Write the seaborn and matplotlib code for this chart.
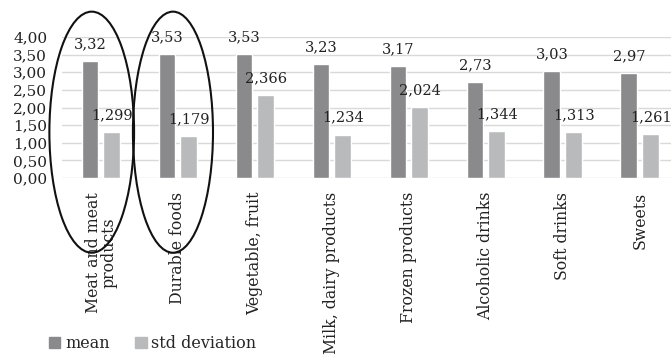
import pandas as pd
import matplotlib
matplotlib.use('Agg')
import matplotlib.pyplot as plt
import seaborn as sns
from matplotlib.patches import Ellipse, Patch

categories = ['Meat and meat\nproducts', 'Durable foods', 'Vegetable, fruit',
              'Milk, dairy products', 'Frozen products', 'Alcoholic drinks',
              'Soft drinks', 'Sweets']
mean_vals = [3.32, 3.53, 3.53, 3.23, 3.17, 2.73, 3.03, 2.97]
std_vals = [1.299, 1.179, 2.366, 1.234, 2.024, 1.344, 1.313, 1.261]
series = ['mean', 'std deviation']
yticks = [0.0, 0.5, 1.0, 1.5, 2.0, 2.5, 3.0, 3.5, 4.0]

MEAN_C = '#8a8a8d'
STD_C = '#b9babc'
FONT = 'DejaVu Serif'

df = pd.DataFrame({
    'category': categories * 2,
    'value': mean_vals + std_vals,
    'series': [series[0]] * len(categories) + [series[1]] * len(categories),
})

sns.set_style('white')
plt.rcParams['font.family'] = [FONT]

fig = plt.figure(figsize=(6.71, 3.56), dpi=100)
ax = fig.add_axes([0.0931, 0.5, 0.918, 0.396])

sns.barplot(data=df, x='category', y='value', hue='series',
            palette=[MEAN_C, STD_C], width=0.571, gap=0.23,
            saturation=1, legend=False, ax=ax)

# data labels
for cont, fmt in zip(ax.containers, ['{:.2f}', '{:.3f}']):
    labels = [fmt.format(v.get_height()).replace('.', ',') for v in cont]
    ax.bar_label(cont, labels=labels, padding=7, fontsize=10.5, color='#222222')

ax.set_ylim(0, 4.0)
ax.set_xlim(-0.5, len(categories) - 0.5)
ax.set_yticks(yticks)
ax.set_yticklabels([f'{t:.2f}'.replace('.', ',') for t in yticks],
                   fontsize=11, color='#222222')
ax.yaxis.grid(True, color='#d9d9d9', linewidth=1)
ax.set_axisbelow(True)
ax.tick_params(axis='y', length=0, pad=11)
ax.tick_params(axis='x', length=0, pad=10)
ax.set_xticks(range(len(categories)))
ax.set_xticklabels(categories, rotation=90, fontsize=11.3, color='#222222',
                   va='top', ha='center', linespacing=0.9)
ax.set_xlabel('')
ax.set_ylabel('')
for s in ax.spines.values():
    s.set_visible(False)

# hand-drawn ellipses around the first two groups
for cx, w in [(-0.12, 1.10), (0.935, 1.04)]:
    ax.add_patch(Ellipse((cx, 1.3), w, 6.84, fill=False, edgecolor='#111111',
                         linewidth=1.5, clip_on=False))

handles = [Patch(color=MEAN_C, label=series[0]), Patch(color=STD_C, label=series[1])]
fig.legend(handles=handles, loc='lower left', bbox_to_anchor=(0.052, -0.03),
           ncol=2, frameon=False, fontsize=11.5, handlelength=0.7, handleheight=0.7,
           handletextpad=0.3, columnspacing=1.6)

fig.savefig('out.png', dpi=100)
